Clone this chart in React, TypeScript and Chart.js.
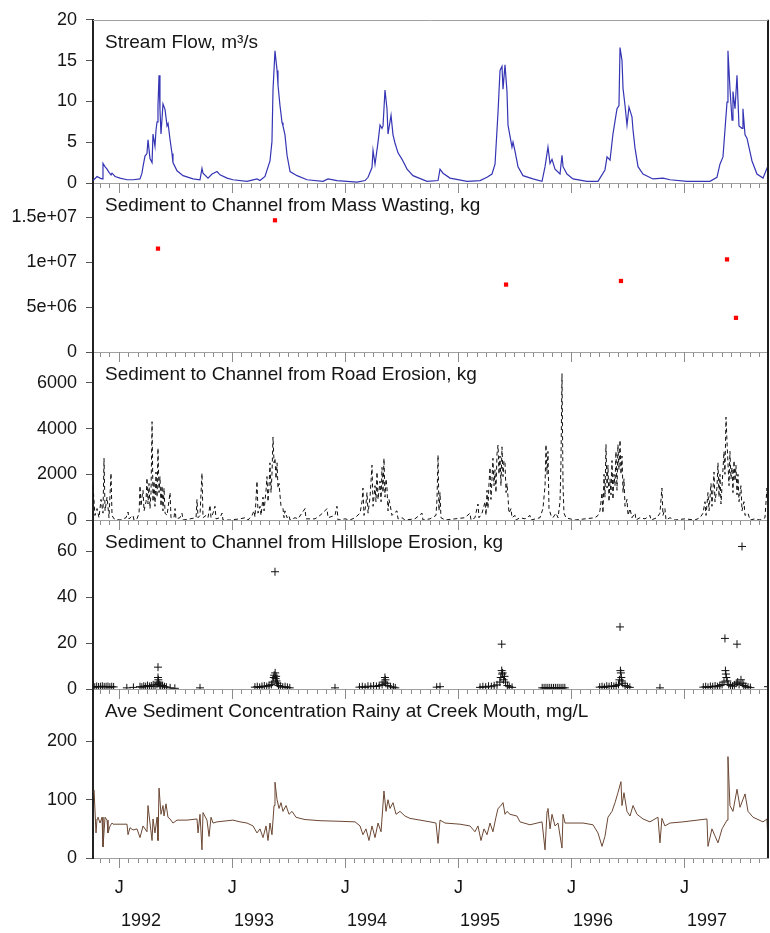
import React, { useEffect, useRef } from 'react';
import { Chart, registerables } from 'chart.js';

Chart.register(...registerables);

// ---------- time axis: months since 1 Oct 1991 ----------
const X_MIN = 0.21;
const X_MAX = 71.87;
const monthTicks = [1,2,3,4,5,6,7,8,9,10,11,12,13,14,15,16,17,18,19,20,21,22,23,24,25,26,27,28,29,30,31,32,33,34,35,36,37,38,39,40,41,42,43,44,45,46,47,48,49,50,51,52,53,54,55,56,57,58,59,60,61,62,63,64,65,66,67,68,69,70,71];
const janTicks = [3, 15, 27, 39, 51, 63];
const janLabel = 'J';
const yearTickPos = [5.3, 17.3, 29.3, 41.3, 53.3, 65.4];
const yearLabels = ['1992', '1993', '1994', '1995', '1996', '1997'];

const panelTitles = [
  'Stream Flow, m³/s',
  'Sediment to Channel from Mass Wasting, kg',
  'Sediment to Channel from Road Erosion, kg',
  'Sediment to Channel from Hillslope Erosion, kg',
  'Ave Sediment Concentration Rainy at Creek Mouth, mg/L',
];

// ---------- y ticks ----------
const flowTicks = [0, 5, 10, 15, 20];
const flowTickLabels = ['0', '5', '10', '15', '20'];
const massTicks = [0, 5e6, 1e7, 1.5e7];
const massTickLabels = ['0', '5e+06', '1e+07', '1.5e+07'];
const roadTicks = [0, 2000, 4000, 6000];
const roadTickLabels = ['0', '2000', '4000', '6000'];
const hillTicks = [0, 20, 40, 60];
const hillTickLabels = ['0', '20', '40', '60'];
const concTicks = [0, 100, 200];
const concTickLabels = ['0', '100', '200'];
const yMaxes = [20, 1.88e7, 7350, 73.5, 290];

// ---------- data: [month, value] ----------
const streamFlow = [
  [0.21,0.3],[0.64,0.8],[0.96,0.6],[1.17,0.5],[1.27,2.4],[1.48,2.0],[1.70,1.7],[1.91,1.3],[2.13,1.0],[2.23,1.2],
  [2.55,0.8],[3.08,0.6],[3.82,0.4],[4.46,0.4],[5.20,0.5],[5.41,1.2],[5.52,2.0],[5.73,3.3],[5.94,3.6],[6.05,5.3],
  [6.26,3.0],[6.48,2.5],[6.58,6.0],[6.79,4.5],[6.90,6.5],[7.01,7.5],[7.11,9.5],[7.22,13.2],[7.32,9.0],[7.43,6.0],
  [7.64,9.7],[7.86,9.0],[8.07,7.0],[8.18,7.3],[8.39,5.3],[8.60,3.6],[8.70,2.5],[9.13,1.5],[9.77,0.9],[10.83,0.5],
  [11.57,0.4],[11.78,1.8],[11.89,1.2],[12.42,0.6],[12.85,1.1],[13.38,1.4],[13.69,1.0],[14.44,0.6],[15.07,0.4],[16.56,0.2],
  [17.62,0.5],[17.94,0.3],[18.47,0.8],[19.00,2.7],[19.21,5.1],[19.32,11.4],[19.53,16.2],[19.64,15.0],[19.75,13.8],[19.85,12.0],
  [20.06,9.5],[20.28,7.4],[20.38,7.0],[20.59,5.9],[20.81,3.4],[21.13,1.4],[21.87,0.9],[22.93,0.4],[24.63,0.2],[25.16,0.5],
  [26.11,0.3],[28.24,0.1],[29.09,0.3],[29.41,0.7],[29.83,1.9],[29.94,4.0],[30.15,2.3],[30.47,5.0],[30.68,7.1],[30.89,6.7],
  [31.00,7.0],[31.21,11.4],[31.42,9.1],[31.53,6.0],[31.85,8.3],[32.06,5.9],[32.27,4.9],[32.59,3.7],[33.02,2.9],[33.55,1.7],
  [34.18,0.9],[35.67,0.2],[36.84,0.3],[37.05,1.7],[37.37,1.2],[38.11,0.6],[39.92,0.2],[41.30,0.3],[42.04,0.7],[42.57,1.1],
  [42.89,2.3],[43.21,8.7],[43.42,13.8],[43.63,14.3],[43.74,11.5],[43.95,14.5],[44.16,11.2],[44.27,7.1],[44.69,4.4],[44.80,5.0],
  [45.01,3.9],[45.33,2.0],[45.86,0.9],[46.92,0.5],[47.88,0.2],[48.20,2.0],[48.51,4.4],[48.73,2.4],[48.94,2.9],[49.26,1.7],
  [49.79,1.1],[50.00,3.4],[50.11,2.0],[50.53,1.1],[51.17,0.5],[52.65,0.2],[53.82,0.2],[54.03,0.6],[54.56,1.6],[54.78,3.2],
  [55.10,2.8],[55.41,6.0],[55.84,9.1],[56.05,9.5],[56.16,16.6],[56.37,15.0],[56.48,11.6],[56.69,9.5],[56.90,7.1],[57.11,9.3],
  [57.43,8.1],[57.54,6.5],[57.75,4.3],[58.07,2.0],[58.60,1.1],[59.66,0.5],[60.72,0.6],[61.46,0.4],[63.27,0.2],[65.71,0.2],
  [66.45,0.7],[66.77,2.3],[67.09,3.2],[67.52,9.9],[67.62,16.2],[67.83,11.6],[68.05,7.7],[68.15,11.2],[68.37,9.1],[68.58,13.2],
  [68.79,7.0],[69.11,6.7],[69.21,9.1],[69.43,5.9],[69.64,5.5],[70.17,2.7],[70.70,1.1],[71.34,0.6],[71.76,1.8],[71.87,1.6],
];

const massWasting = [
  [7.11, 1.15e7], [19.53, 1.465e7], [44.06, 7.5e6], [56.26, 7.9e6], [67.52, 1.03e7], [68.47, 3.8e6],
];

const roadErosion = [
  [0.21,1500],[0.42,200],[0.64,500],[0.85,100],[1.06,900],[1.27,300],[1.38,2700],[1.49,400],[1.70,1000],[1.91,100],
  [2.12,2050],[2.23,200],[2.44,50],[3.08,0],[3.72,100],[3.93,350],[4.03,50],[4.46,200],[4.56,0],[4.88,50],
  [5.10,300],[5.20,1500],[5.31,600],[5.41,1000],[5.52,1300],[5.63,400],[5.84,800],[5.94,1840],[6.05,700],[6.16,1600],
  [6.26,500],[6.37,1200],[6.48,4300],[6.58,800],[6.69,1700],[6.79,600],[6.90,2100],[7.01,1000],[7.11,3150],[7.22,1200],
  [7.32,1900],[7.43,600],[7.54,1500],[7.64,400],[7.75,1400],[7.86,300],[8.07,200],[8.39,1200],[8.49,100],[8.81,100],
  [8.92,500],[9.02,50],[9.45,100],[9.66,300],[9.77,0],[10.51,50],[11.15,100],[11.25,900],[11.36,100],[11.57,200],
  [11.78,2050],[11.89,100],[12.21,200],[12.42,100],[12.63,650],[12.74,100],[12.95,300],[13.16,600],[13.27,50],[13.69,100],
  [13.91,300],[14.01,0],[14.76,0],[15.82,50],[16.35,100],[16.67,0],[17.09,200],[17.30,400],[17.41,130],[17.62,1700],
  [17.73,300],[17.94,600],[18.05,200],[18.26,1000],[18.37,400],[18.58,1300],[18.68,1900],[18.79,800],[18.90,1500],[19.00,2500],
  [19.11,1200],[19.21,2000],[19.32,3630],[19.43,2500],[19.53,2700],[19.64,1800],[19.75,2500],[19.85,1400],[19.96,1600],[20.06,1100],
  [20.17,600],[20.38,500],[20.49,100],[20.59,400],[20.81,100],[21.02,200],[21.13,0],[21.66,100],[21.97,50],[22.72,500],
  [22.82,50],[23.78,50],[24.31,200],[24.84,400],[25.05,500],[25.16,100],[25.90,200],[26.11,600],[26.22,0],[26.96,50],
  [27.49,0],[28.03,100],[28.56,300],[28.77,800],[28.87,1400],[28.98,200],[29.19,700],[29.30,1200],[29.41,300],[29.62,1000],
  [29.83,2400],[29.94,600],[30.04,1000],[30.15,1500],[30.25,800],[30.36,2100],[30.47,900],[30.68,1700],[30.79,800],[30.89,2300],
  [31.00,1200],[31.10,2700],[31.21,1000],[31.32,1800],[31.42,1400],[31.53,400],[31.63,900],[31.74,700],[31.95,200],[32.17,300],
  [32.48,400],[32.59,50],[33.02,100],[33.33,0],[34.39,50],[35.14,300],[35.24,0],[35.99,50],[36.62,200],[36.73,900],
  [36.84,2840],[36.94,400],[37.05,1200],[37.15,100],[37.58,0],[38.64,50],[39.70,100],[40.23,300],[40.34,0],[40.76,100],
  [41.08,700],[41.19,100],[41.51,300],[41.83,800],[41.93,200],[42.04,1300],[42.14,500],[42.25,1600],[42.36,2300],[42.46,900],
  [42.57,1800],[42.67,2700],[42.78,1500],[42.89,2200],[42.99,1200],[43.10,2900],[43.21,3280],[43.31,2000],[43.42,2800],[43.52,1500],
  [43.63,3200],[43.74,1900],[43.84,2600],[43.95,2500],[44.06,1200],[44.16,1600],[44.27,1000],[44.37,300],[44.59,500],[44.69,100],
  [45.01,200],[45.12,0],[45.54,100],[46.07,50],[46.60,200],[46.71,0],[47.66,100],[47.98,500],[48.20,1500],[48.30,3300],
  [48.41,2000],[48.51,3000],[48.62,500],[48.83,200],[49.04,100],[49.36,300],[49.58,100],[49.79,800],[49.89,2500],[50.00,6400],
  [50.11,1500],[50.21,300],[50.42,100],[50.85,50],[51.38,0],[52.44,50],[53.50,100],[53.82,200],[54.03,400],[54.25,1200],
  [54.35,300],[54.46,2000],[54.56,1000],[54.67,3300],[54.78,1400],[54.88,2400],[54.99,800],[55.10,1800],[55.20,1100],[55.31,2600],
  [55.41,900],[55.52,2000],[55.63,1500],[55.73,3000],[55.84,1300],[55.94,3300],[56.05,2200],[56.16,3500],[56.26,2000],[56.37,2800],
  [56.48,1200],[56.58,1800],[56.69,600],[56.90,900],[57.01,200],[57.22,500],[57.43,100],[57.75,300],[57.86,0],[58.28,100],
  [58.81,50],[59.34,200],[59.45,0],[60.08,100],[60.40,300],[60.61,1400],[60.72,200],[60.93,500],[61.04,0],[61.46,100],
  [61.99,0],[63.05,50],[64.12,0],[64.65,100],[64.97,300],[65.18,800],[65.29,200],[65.50,1200],[65.61,400],[65.82,1600],
  [65.92,600],[66.14,2100],[66.24,800],[66.45,1400],[66.56,2500],[66.67,1000],[66.77,2000],[66.88,700],[66.99,1500],[67.20,3000],
  [67.30,2000],[67.41,4500],[67.52,3400],[67.62,2500],[67.73,1500],[67.83,3000],[67.94,1800],[68.05,2300],[68.15,1200],[68.26,2600],
  [68.37,1700],[68.47,2400],[68.58,1100],[68.68,2000],[68.79,800],[69.00,1500],[69.11,400],[69.32,800],[69.43,200],[69.75,300],
  [69.96,0],[70.49,50],[71.02,0],[71.55,100],[71.76,1400],[71.87,600],
];

const hillslopeErosion = [
  [0.21,1.0],[0.4,0.8],[0.6,1.1],[0.8,0.9],[1.0,1.0],[1.2,1.2],[1.4,0.9],[1.6,1.0],[1.8,1.1],[2.0,0.8],[2.2,1.0],[2.4,0.9],
  [3.8,0.5],[4.5,0.7],
  [5.2,1.0],[5.4,0.8],[5.6,1.2],[5.8,1.0],[6.0,1.5],[6.2,1.1],[6.4,1.3],[6.6,1.8],[6.8,1.2],[7.0,2.0],[7.11,9.5],[7.11,5.0],
  [7.15,4.0],[7.11,3.0],[7.2,2.5],[7.3,1.8],[7.4,1.2],[7.6,1.5],[7.8,1.0],[8.0,0.8],[8.4,0.5],[8.9,0.3],
  [11.57,0.5],
  [17.4,0.8],[17.65,1.0],[17.9,0.7],[18.15,1.1],[18.4,1.3],[18.65,1.0],[18.9,1.5],[19.15,2.0],[19.3,3.0],[19.4,5.0],[19.45,6.0],
  [19.53,51.0],[19.55,7.0],[19.6,4.5],[19.65,5.5],[19.7,3.5],[19.8,2.5],[19.9,1.5],[20.1,1.2],[20.35,0.8],[20.6,1.0],[20.85,0.7],[21.1,0.5],
  [25.9,0.5],
  [28.5,0.8],[28.8,1.0],[29.1,0.7],[29.4,1.2],[29.7,1.0],[30.0,1.3],[30.3,1.1],[30.6,1.5],[30.9,2.0],[31.1,3.0],[31.2,5.0],
  [31.25,4.0],[31.3,2.5],[31.5,1.5],[31.8,1.0],[32.1,0.8],[32.3,0.5],
  [36.7,0.8],[37.05,1.0],
  [41.3,0.7],[41.6,1.0],[41.9,0.8],[42.2,1.2],[42.5,1.0],[42.8,1.4],[43.1,1.8],[43.4,3.0],[43.5,5.0],[43.6,19.5],[43.6,8.0],
  [43.65,6.5],[43.7,7.0],[43.8,4.0],[43.9,5.5],[44.0,3.0],[44.2,1.5],[44.4,1.0],[44.7,0.7],
  [47.9,0.5],[48.1,0.5],[48.3,0.5],[48.5,0.5],[48.7,0.5],[48.9,0.5],[49.1,0.5],[49.3,0.5],[49.5,0.5],[49.7,0.5],[49.9,0.5],[50.1,0.5],[50.3,0.5],
  [54.0,0.8],[54.25,1.0],[54.5,0.7],[54.75,1.2],[55.0,1.0],[55.25,1.3],[55.5,1.1],[55.75,1.5],[56.0,2.0],[56.1,4.0],[56.16,27.0],
  [56.2,8.0],[56.25,7.0],[56.3,5.0],[56.35,3.5],[56.45,2.5],[56.7,1.5],[56.95,1.0],[57.2,0.7],
  [60.4,0.5],
  [65.0,0.8],[65.25,1.0],[65.5,0.7],[65.75,1.1],[66.0,1.0],[66.25,1.3],[66.5,1.0],[66.75,1.5],[67.0,2.0],[67.2,3.0],[67.3,22.0],
  [67.35,8.0],[67.4,6.5],[67.45,5.0],[67.55,3.5],[67.7,2.0],[67.9,1.5],[68.1,1.2],[68.3,1.8],[68.5,2.5],[68.58,19.5],[68.65,3.0],
  [68.8,2.0],[69.0,4.0],[69.11,62.0],[69.2,2.5],[69.3,1.5],[69.5,1.0],[69.75,0.8],[70.0,0.6],
  [71.87,1.0],
];

const sedimentConc = [
  [0.32,117],[0.53,43],[0.64,67],[0.74,70],[0.96,60],[1.17,70],[1.27,19],[1.49,70],[1.70,65],[1.80,43],
  [2.02,55],[2.23,60],[2.34,58],[3.82,58],[3.93,40],[4.14,52],[4.46,48],[4.88,50],[5.20,35],[5.52,55],
  [5.94,45],[6.05,90],[6.26,60],[6.48,30],[6.58,67],[6.79,43],[7.01,70],[7.11,30],[7.22,120],[7.43,75],
  [7.64,90],[7.75,72],[7.96,93],[8.17,70],[8.39,67],[8.70,60],[9.13,65],[10.19,65],[11.25,67],[11.36,43],
  [11.57,75],[11.78,14],[11.89,78],[12.31,65],[12.53,37],[12.74,70],[12.95,60],[13.38,62],[15.07,65],[15.82,62],
  [16.56,60],[17.20,55],[17.62,43],[17.94,50],[18.26,35],[18.58,55],[18.79,30],[19.00,60],[19.21,40],[19.43,90],
  [19.53,130],[19.75,100],[19.96,85],[20.17,95],[20.38,80],[20.70,90],[21.02,75],[21.34,80],[21.76,70],[22.19,68],
  [22.72,66],[24.31,64],[26.43,63],[28.03,62],[28.56,55],[28.87,40],[29.19,50],[29.51,30],[29.83,55],[30.15,35],
  [30.47,60],[30.79,45],[31.10,115],[31.32,80],[31.53,100],[31.74,85],[32.06,95],[32.38,75],[32.80,80],[33.33,72],
  [33.86,68],[34.93,65],[35.99,62],[36.62,60],[36.84,25],[37.05,65],[37.58,60],[39.17,58],[40.23,55],[40.76,45],
  [41.08,55],[41.40,30],[41.72,50],[42.04,40],[42.36,60],[42.67,45],[42.99,70],[43.21,85],[43.42,88],[43.74,95],
  [43.95,75],[44.16,80],[44.48,75],[45.22,72],[45.54,62],[46.60,57],[47.88,62],[48.20,14],[48.41,80],[48.51,85],
  [48.73,50],[48.94,75],[49.26,55],[49.58,60],[50.00,17],[50.11,75],[50.32,60],[52.23,60],[53.29,57],[53.82,43],
  [54.25,20],[54.56,37],[54.88,70],[55.31,80],[55.63,95],[55.94,112],[56.26,131],[56.37,90],[56.58,112],[56.90,80],
  [57.22,72],[57.54,90],[57.96,75],[58.60,67],[59.34,62],[60.19,70],[60.40,26],[60.61,68],[60.93,55],[61.46,60],
  [62.85,62],[65.39,67],[65.50,20],[65.92,50],[66.24,38],[66.56,26],[66.99,50],[67.52,65],[67.62,174],[67.83,90],
  [68.15,80],[68.58,118],[68.90,87],[69.43,110],[69.75,80],[70.28,70],[71.34,62],[71.76,67],[71.87,26],
];

// ---------- layout / style ----------
const W = 770;
const H = 933;
const PANEL_TOP = [15, 183, 352, 520, 689];
const PANEL_BOTTOM = [183, 352, 520, 689, 858];
const FONT = '"Liberation Sans", Arial, Helvetica, sans-serif';
const TEXT = '#151515';

const toXY = (arr: number[][]) => arr.map(([x, y]) => ({ x, y }));

function datasetsFor(i: number): any[] {
  if (i === 0) {
    return [{ data: toXY(streamFlow), showLine: true, borderColor: '#3434b4', borderWidth: 1.2, pointRadius: 0, tension: 0 }];
  }
  if (i === 1) {
    return [{ data: toXY(massWasting), showLine: false, pointStyle: 'rect', pointRadius: 3, backgroundColor: '#ff0000', borderColor: '#ff0000', borderWidth: 0 }];
  }
  if (i === 2) {
    return [{ data: toXY(roadErosion), showLine: true, borderColor: '#111111', borderWidth: 1, borderDash: [4, 3], pointRadius: 0, tension: 0 }];
  }
  if (i === 3) {
    return [{ data: toXY(hillslopeErosion), showLine: false, pointStyle: 'cross', pointRadius: 4, borderColor: '#111111', borderWidth: 1, backgroundColor: '#111111' }];
  }
  return [{ data: toXY(sedimentConc), showLine: true, borderColor: '#6b4733', borderWidth: 1, pointRadius: 0, tension: 0 }];
}

const yTickSets = [flowTicks, massTicks, roadTicks, hillTicks, concTicks];
const yLabelSets = [flowTickLabels, massTickLabels, roadTickLabels, hillTickLabels, concTickLabels];

function makeConfig(i: number): any {
  const isBottom = i === 4;
  const isTop = i === 0;
  const xAxisH = isBottom ? 40 : 12;
  const x2H = isBottom ? 35 : 0;
  const scales: any = {
    x: {
      type: 'linear',
      position: 'bottom',
      min: X_MIN,
      max: X_MAX,
      afterBuildTicks: (s: any) => { s.ticks = monthTicks.map((v) => ({ value: v })); },
      afterFit: (s: any) => { s.height = xAxisH; },
      grid: { display: true, drawOnChartArea: false, drawTicks: true, tickLength: 5, tickColor: '#8c8c8c', tickWidth: 1 },
      border: { display: true, color: '#a0a0a0', width: 1 },
      ticks: isBottom
        ? {
            display: true, autoSkip: false, maxRotation: 0, minRotation: 0, padding: 0, color: TEXT,
            font: { family: FONT, size: 18, lineHeight: 2.78 },
            callback: (v: number) => (janTicks.includes(v) ? janLabel : ''),
          }
        : { display: false },
    },
    y: {
      type: 'linear',
      position: 'left',
      min: 0,
      max: yMaxes[i],
      afterBuildTicks: (s: any) => { s.ticks = yTickSets[i].map((v) => ({ value: v })); },
      afterFit: (s: any) => { s.width = 93; },
      grid: { drawOnChartArea: false, drawTicks: true, tickLength: 7, tickColor: '#555555', tickWidth: 1 },
      border: { display: true, color: '#222222', width: 2 },
      ticks: {
        padding: 9, color: TEXT, font: { family: FONT, size: 18 },
        callback: (_v: number, idx: number) => yLabelSets[i][idx],
      },
    },
  };
  if (isBottom) {
    scales.x2 = {
      type: 'linear',
      position: 'bottom',
      min: X_MIN,
      max: X_MAX,
      afterBuildTicks: (s: any) => { s.ticks = yearTickPos.map((v) => ({ value: v })); },
      afterFit: (s: any) => { s.height = x2H; },
      grid: { display: false, drawTicks: false },
      border: { display: false },
      ticks: {
        autoSkip: false, maxRotation: 0, minRotation: 0, padding: 12, color: TEXT,
        font: { family: FONT, size: 18 },
        callback: (_v: number, idx: number) => yearLabels[idx],
      },
    };
  }

  const framePlugin = {
    id: 'panelFrame' + i,
    afterDraw(chart: any) {
      const { ctx, chartArea: a, scales: sc } = chart;
      const xs = sc.x;
      ctx.save();
      // longer January ticks
      ctx.strokeStyle = '#8c8c8c';
      ctx.lineWidth = 1;
      janTicks.forEach((j) => {
        const px = Math.round(xs.getPixelForValue(j)) + 0.5;
        ctx.beginPath();
        ctx.moveTo(px, a.bottom);
        ctx.lineTo(px, a.bottom + 10);
        ctx.stroke();
      });
      // right border
      ctx.strokeStyle = '#1e1e1e';
      ctx.lineWidth = 2;
      ctx.beginPath();
      ctx.moveTo(a.right, a.top);
      ctx.lineTo(a.right, a.bottom);
      ctx.stroke();
      if (isTop) {
        ctx.strokeStyle = '#a0a0a0';
        ctx.lineWidth = 1;
        ctx.beginPath();
        ctx.moveTo(a.left, Math.round(a.top) + 0.5);
        ctx.lineTo(a.right, Math.round(a.top) + 0.5);
        ctx.stroke();
      }
      // panel title
      ctx.fillStyle = TEXT;
      ctx.font = '19px ' + FONT;
      ctx.textAlign = 'left';
      ctx.textBaseline = 'alphabetic';
      ctx.fillText(panelTitles[i], a.left + 12, a.top + 28);
      ctx.restore();
    },
  };

  return {
    type: 'scatter',
    data: { datasets: datasetsFor(i) },
    options: {
      responsive: false,
      animation: false,
      devicePixelRatio: 1,
      events: [],
      layout: {
        autoPadding: false,
        padding: {
          top: PANEL_TOP[i],
          left: 0,
          right: W - 768,
          bottom: H - PANEL_BOTTOM[i] - xAxisH - x2H,
        },
      },
      plugins: { legend: { display: false }, tooltip: { enabled: false }, title: { display: false } },
      scales,
    },
    plugins: [framePlugin],
  };
}

const panelIndex = [0, 1, 2, 3, 4];

export default function App() {
  const refs = useRef<(HTMLCanvasElement | null)[]>([]);
  useEffect(() => {
    const charts = panelIndex.map((i) => new Chart(refs.current[i] as HTMLCanvasElement, makeConfig(i)));
    return () => charts.forEach((c) => c.destroy());
  }, []);
  return (
    <div style={{ position: 'absolute', left: 0, top: 0, width: W, height: H, background: '#ffffff' }}>
      {panelIndex.map((i) => (
        <canvas
          key={i}
          ref={(el) => { refs.current[i] = el; }}
          width={W}
          height={H}
          style={{ position: 'absolute', left: 0, top: 0, width: W, height: H }}
        />
      ))}
    </div>
  );
}
